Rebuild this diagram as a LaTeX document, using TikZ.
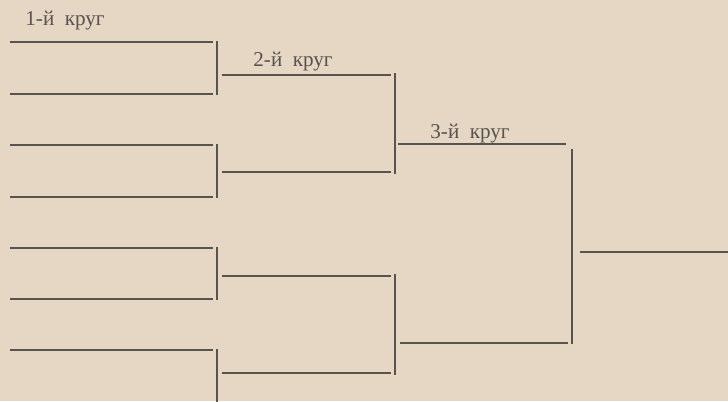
\documentclass[tikz,border=0pt]{standalone}
\usepackage{fontspec}
\setmainfont{Liberation Serif}
\usepackage{tikz}
\usetikzlibrary{positioning}
\definecolor{PaperBeige}{HTML}{E6D6C4}
\definecolor{InkGray}{HTML}{57534F}
\tikzset{
    % Bracket styles
    bracketline/.style={
        draw=InkGray,
        line width=1.42pt
    },
    % Label styles
    roundlabel/.style={
        inner sep=0pt,
        text=InkGray,
        font=\fontsize{15}{17}\selectfont
    }
}
\begin{document}
\begin{tikzpicture}[x=0.025cm, y=-0.025cm]
    % Paper
    \fill[PaperBeige] (0,0) rectangle (728,401);
    \useasboundingbox (0,0) rectangle (728,401);
    \clip (0,0) rectangle (728,401);

    % Round 1
    \foreach \i/\y in {1/42,2/94,3/145,4/197,5/248,6/299,7/350,8/408} {
        \coordinate (r1w\i) at (10,\y);
        \coordinate (r1e\i) at (213,\y);
        \draw[bracketline] (r1w\i) -- (r1e\i);
    }
    \foreach \i/\j in {1/2,3/4,5/6,7/8} {
        \draw[bracketline] ([shift={(4,-1)}]r1e\i) -- ([shift={(4,1)}]r1e\j);
    }

    % Round 2
    \foreach \i/\y in {1/75,2/172,3/276,4/373} {
        \coordinate (r2w\i) at (222,\y);
        \coordinate (r2e\i) at (391,\y);
        \draw[bracketline] (r2w\i) -- (r2e\i);
    }
    \foreach \i/\j in {1/2,3/4} {
        \draw[bracketline] ([shift={(4,-2)}]r2e\i) -- ([shift={(4,2)}]r2e\j);
    }

    % Round 3
    \coordinate (r3w1) at (398,144);
    \coordinate (r3e1) at (566,144);
    \coordinate (r3w2) at (400,343);
    \coordinate (r3e2) at (568,343);
    \draw[bracketline] (r3w1) -- (r3e1);
    \draw[bracketline] (r3w2) -- (r3e2);
    \draw[bracketline] ([shift={(6,5)}]r3e1) -- ([shift={(4,1)}]r3e2);

    % Final
    \coordinate (fw) at (580,252);
    \coordinate (fe) at (728,252);
    \draw[bracketline] (fw) -- (fe);

    % Labels
    \node[roundlabel] (lab1) at (65,21) {1-й\ \ круг};
    \node[roundlabel] (lab2) at (293,62) {2-й\ \ круг};
    \node[roundlabel] (lab3) at (470,134) {3-й\ \ круг};
\end{tikzpicture}
\end{document}
